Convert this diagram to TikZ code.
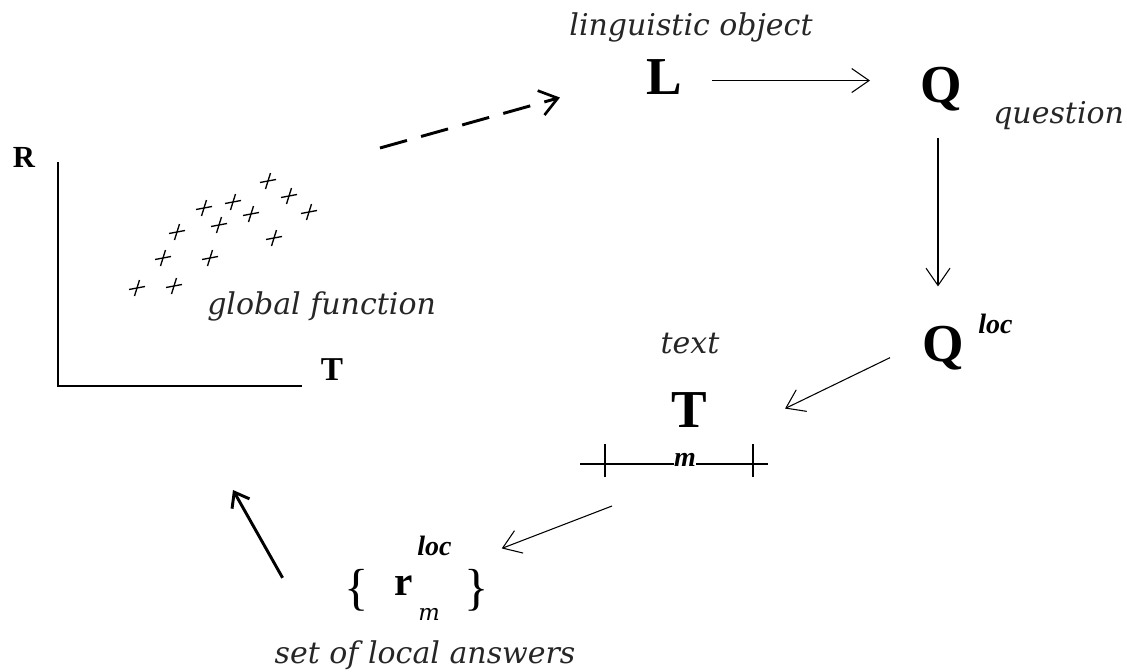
\documentclass[tikz,border=0pt]{standalone}
\usepackage{fontspec}
\setmainfont{Liberation Serif}
\newfontfamily\labfont{DejaVu Serif}
\usetikzlibrary{arrows.meta,calc}
\tikzset{
  lab/.style={inner sep=0pt, anchor=base, text=black!85, font=\labfont\itshape\fontsize{22.5}{26}\selectfont},
  big/.style={inner sep=0pt, anchor=base, font=\bfseries\fontsize{40}{44}\selectfont},
  sup/.style={inner sep=0pt, anchor=base west, font=\bfseries\itshape\fontsize{21}{24}\selectfont},
  thinarr/.style={line width=0.8pt, -{Straight Barb[length=13pt,width=18pt,line width=0.8pt]}},
  thickarr/.style={line width=2.2pt, -{Straight Barb[length=10pt,width=15pt,line width=2.2pt]}},
  dasharr/.style={line width=2.2pt, dash pattern=on 21pt off 11pt, -{Straight Barb[length=13pt,width=19pt,line width=2pt]}},
  crossmark/.style={line width=1pt}
}
\begin{document}
\begin{tikzpicture}[x=0.75pt,y=-0.75pt]
\useasboundingbox[fill=white] (0,0) rectangle (1127,671);

% plot axes
\draw[line width=1.2pt] (58,162) -- (58,386) -- (302,386);
\node[inner sep=0pt, anchor=base, font=\bfseries\fontsize{23}{26}\selectfont] (R) at (24,167) {R};
\node[inner sep=0pt, anchor=base, font=\bfseries\fontsize{25}{28}\selectfont] (Tax) at (332,380) {T};

% crosses
\foreach \x/\y in {137/288,174/286,163/258,210/258,177/232,219/225,204/208,233/202,251/214,268/181,289/196,309/212,274/238}{
  \draw[crossmark] (\x-8,\y+1.5) -- (\x+8,\y-1.5);
  \draw[crossmark] (\x+2.5,\y-8) -- (\x-2.5,\y+8);
}
\node[lab, anchor=base west] (glob) at (207,314) {global function};

% top row
\node[lab] (lingo) at (691,35) {linguistic object};
\node[big] (L) at (664,94) {L};
\node[big] (Q) at (941,102) {Q};
\node[lab, anchor=base west] (quest) at (993,123) {question};

% Q loc
\node[big] (Qloc) at (943,361) {Q};
\node[sup] (Qsup) at (978,333) {loc};

% text T
\node[lab] (textlab) at (690,353) {text};
\node[big] (T) at (689,427) {T};
\coordinate (tl) at (605,464);
\coordinate (tr) at (753,464);
\node[inner sep=0pt, anchor=base, font=\bfseries\itshape\fontsize{21}{24}\selectfont] (mi) at (685,466) {m};
\draw[line width=1pt] (580,464) -- (tl -| mi.west);
\draw[line width=1pt] (tl -| mi.east) -- (768,464);
\draw[line width=1pt] ($(tl)+(0,-20)$) -- ($(tl)+(0,13)$);
\draw[line width=1pt] ($(tr)+(0,-20)$) -- ($(tr)+(0,13)$);

% local answers
\node[inner sep=0pt, anchor=base, font=\fontsize{38}{42}\selectfont] (lb) at (357,604) {\{};
\node[inner sep=0pt, anchor=base, font=\fontsize{38}{42}\selectfont] (rb) at (477,604) {\}};
\node[inner sep=0pt, anchor=base, font=\bfseries\fontsize{31}{34}\selectfont] (r) at (404,595) {r};
\node[sup] (rloc) at (417,555) {loc};
\node[inner sep=0pt, anchor=base west, font=\labfont\itshape\fontsize{17}{20}\selectfont] (rm) at (418,620) {m};
\node[lab] (setlab) at (425,663) {set of local answers};

% connectors
\draw[thinarr] ($(L.east)+(30,4)$) -- ($(L.east -| Q.west)+(-50,4)$);
\draw[thinarr] ($(Q.south)+(-3,27)$) -- ($(Q.south |- Qloc.north)+(-3,-39)$);
\draw[thinarr] ($(Qloc.west)+(-32,10)$) -- ($(T.east)+(78,-1)$);
\draw[thinarr] ($(tl)+(7,42)$) -- ($(rloc.east)+(50,3)$);
\coordinate (plotret) at (233,490);
\draw[thickarr] ($(lb.west)+(-62,-12)$) -- (plotret);
\coordinate (dashstart) at (380,148);
\draw[dasharr] (dashstart) -- ($(L.west)+(-86,21)$);
\end{tikzpicture}
\end{document}
